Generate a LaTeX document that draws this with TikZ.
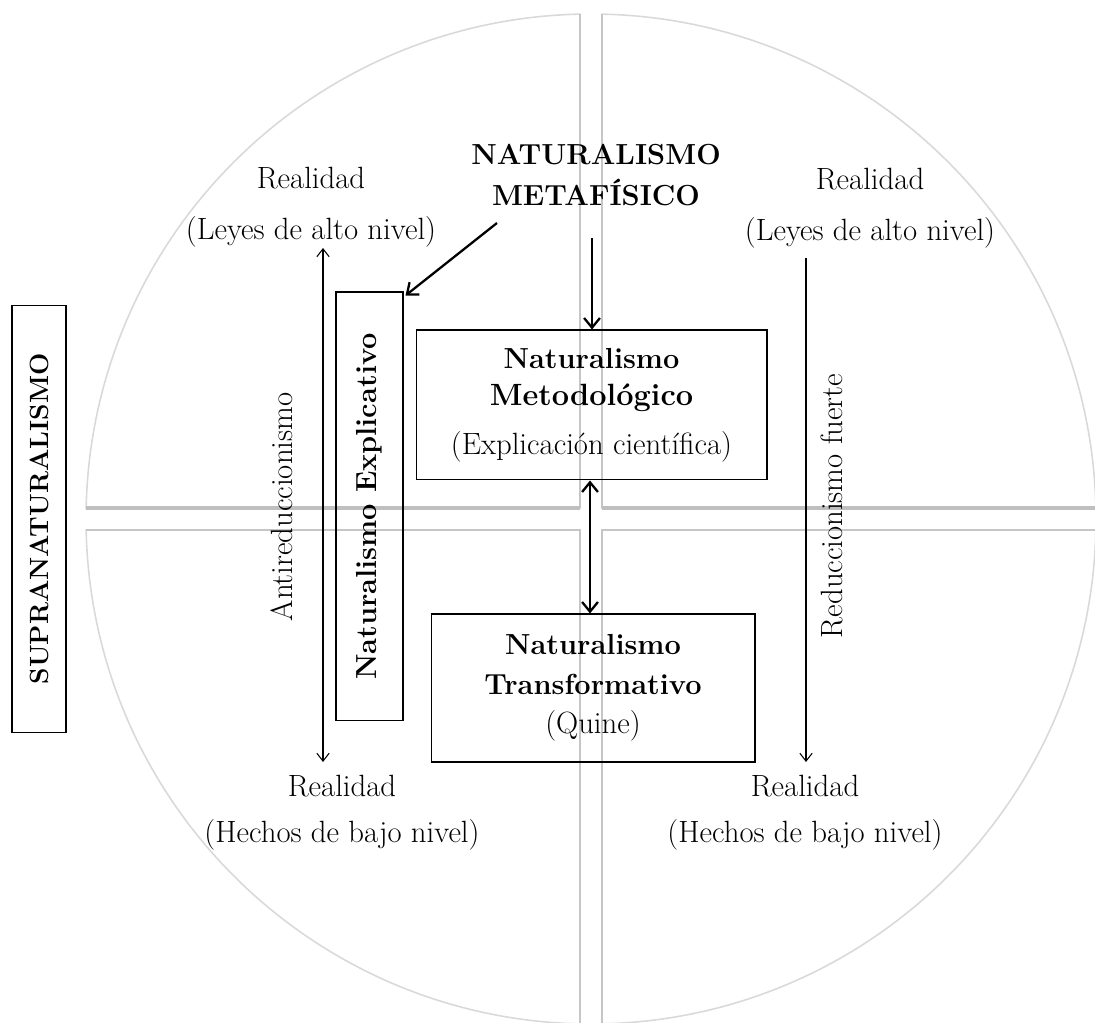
\documentclass[tikz,border=0pt]{standalone}
\usepackage{fontspec}
\usepackage{tikz}
\usetikzlibrary{arrows.meta}
\usetikzlibrary{positioning}
\tikzset{quad-arc/.style={draw=gray!30, line width=0.9pt}}
\tikzset{quad-edge/.style={draw=gray!45, line width=0.9pt}}
\tikzset{quad-shade/.style={draw=gray!50, line width=2.4pt}}
\tikzset{plain-text/.style={font=\fontsize{17.5}{21}\selectfont, align=center, inner sep=0}}
\tikzset{bold-text/.style={plain-text, font=\fontsize{16.5}{21}\selectfont\bfseries}}
\tikzset{concept-box/.style={draw, line width=0.6pt, inner sep=0, align=center, font=\fontsize{17.5}{21}\selectfont}}
\tikzset{thin-arrow/.style={line width=0.6pt, >={Straight Barb[length=4.5pt,width=7pt]}}}
\tikzset{thick-arrow/.style={line width=1.3pt, >={Straight Barb[length=5.5pt,width=9pt]}}}

\begin{document}
\begin{tikzpicture}[x=0.02cm, y=0.02cm]
    \useasboundingbox (0,0) rectangle (1095,1023);

    % circle cut in four
    \foreach \cx/\cy/\a/\b in {580/515/91.25/178.75, 602/515/1.25/88.75, 580/493/181.25/268.75, 602/493/271.25/358.75} {
        \draw[quad-arc] (\cx,\cy) -- ([shift={(\a:505)}]591,504) arc[start angle=\a, end angle=\b, radius=505] -- cycle;
    }
    \draw[quad-edge] (580,515) -- (580,1009);
    \draw[quad-edge] (602,515) -- (602,1009);
    \draw[quad-shade] (86,515) -- (580,515);
    \draw[quad-shade] (602,515) -- (1096,515);
    \draw[quad-edge] (86,493) -- (580,493) -- (580,-1);
    \draw[quad-edge] (602,-1) -- (602,493) -- (1096,493);

    \node[bold-text, font=\fontsize{16.5}{23}\selectfont\bfseries] (metaf) at (596,848) {NATURALISMO\\METAFÍSICO};

    \node[plain-text, font=\fontsize{17.5}{29}\selectfont] (realTL) at (311,816) {Realidad\\(Leyes de alto nivel)};
    \node[plain-text, font=\fontsize{17.5}{29}\selectfont] (realTR) at (870,815) {Realidad\\(Leyes de alto nivel)};
    \node[plain-text, font=\fontsize{17.5}{26}\selectfont] (realBL) at (342,210) {Realidad\\(Hechos de bajo nivel)};
    \node[plain-text, font=\fontsize{17.5}{26}\selectfont] (realBR) at (805,210) {Realidad\\(Hechos de bajo nivel)};

    \node[concept-box, minimum width=1.08cm, minimum height=8.56cm] (supra) at (39,504) {};
    \node[bold-text, rotate=90, font=\fontsize{15}{18}\selectfont\bfseries] (supraText) at (supra) {SUPRANATURALISMO};

    \node[concept-box, minimum width=1.34cm, minimum height=8.58cm] (explic) at (369.5,516.5) {};
    \node[bold-text, rotate=90] (explicText) at (explic) {Naturalismo Explicativo};

    \node[concept-box, minimum width=7.02cm, minimum height=3cm] (metod) at (591.5,618)
        {\fontsize{16.5}{21}\selectfont\textbf{Naturalismo}\\\textbf{Metodológico}\\[7pt]\fontsize{17.5}{21}\selectfont(Explicación científica)};
    \node[concept-box, minimum width=6.48cm, minimum height=2.96cm, font=\fontsize{16.5}{22.5}\selectfont] (transf) at (593,335)
        {\textbf{Naturalismo}\\\textbf{Transformativo}\\\fontsize{17.5}{22.5}\selectfont(Quine)};

    \node[plain-text, rotate=90] (antired) at (282,516) {Antireduccionismo};
    \node[plain-text, rotate=90] (reduc) at (832,517) {Reduccionismo fuerte};

    \coordinate (antiTop) at (323,775);
    \coordinate (antiBot) at (323,261);
    \coordinate (reducTop) at (806,765);
    \coordinate (reducBot) at (806,261);
    \coordinate (metafDown) at (592,785);
    \coordinate (metafSide) at (497,800);

    \draw[thin-arrow, <->] (antiTop) -- (antiBot);
    \draw[thin-arrow, ->] (reducTop) -- (reducBot);
    \draw[thick-arrow, ->] (metafDown) -- (metafDown |- metod.north);
    \draw[thick-arrow, ->] (metafSide) -- ([shift={(2,-4)}]explic.north east);
    \draw[thick-arrow, <->] (metod.south -| 590,0) -- (transf.north -| 590,0);
\end{tikzpicture}
\end{document}
